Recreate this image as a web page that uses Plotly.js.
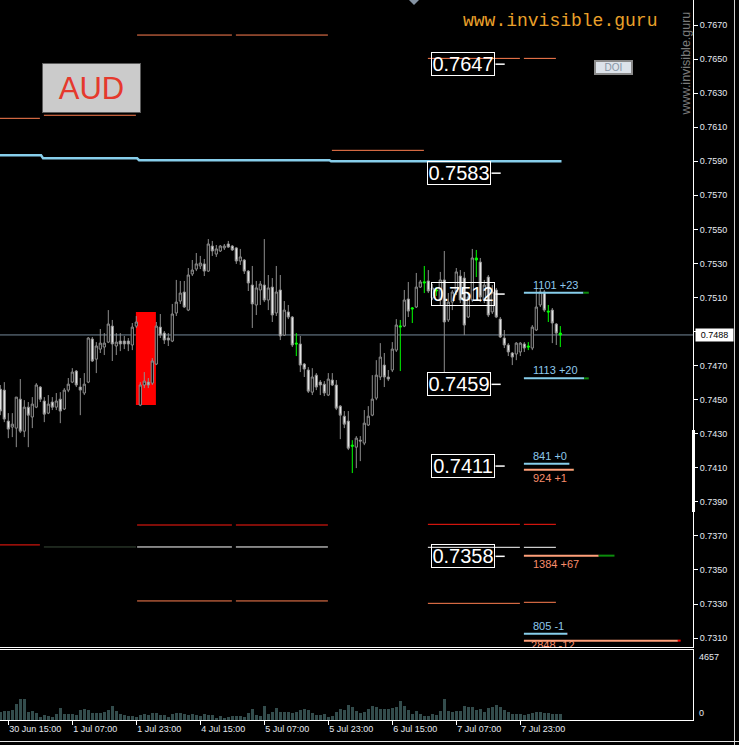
<!DOCTYPE html>
<html>
<head>
<meta charset="utf-8">
<script src="https://cdn.plot.ly/plotly-3.0.1.min.js"></script>
<style>
  html, body { margin: 0; padding: 0; background: #000; }
  #chart { width: 739px; height: 745px; }
</style>
</head>
<body>
<div id="chart"></div>
<script>
// AUDUSD, H1 bars from 30 Jun 13:00 to 8 Jul 09:00 (bar index 0..140)
const open = [
  0.74562,0.74556,0.74374,0.74339,0.74333,0.74503,0.74315,0.74456,0.74398,0.74456,
  0.74574,0.74492,0.74421,0.74486,0.74456,0.74503,0.74445,0.74556,0.74603,0.74668,
  0.74574,0.74539,0.74603,0.74856,0.74738,0.74797,0.74809,0.74838,0.74932,0.74815,
  0.74844,0.74844,0.74844,0.74821,0.74932,0.74468,0.74586,0.74603,0.74597,0.74709,
  0.74926,0.74891,0.74862,0.74844,0.75009,0.75079,0.75132,0.75026,0.75238,0.75267,
  0.75285,0.75297,0.75255,0.75402,0.75355,0.75373,0.75391,0.75414,0.75402,0.75391,
  0.75314,0.75320,0.75255,0.75173,0.75056,0.75144,0.75173,0.75085,0.75161,0.75009,
  0.75144,0.74879,0.75015,0.74985,0.74832,0.74827,0.74709,0.74674,0.74544,0.74644,
  0.74603,0.74591,0.74527,0.74615,0.74586,0.74462,0.74403,0.74374,0.74233,0.74221,
  0.74262,0.74245,0.74351,0.74409,0.74509,0.74633,0.74703,0.74633,0.74674,0.74791,
  0.74926,0.74932,0.75091,0.75032,0.75044,0.75161,0.75185,0.75197,0.75097,0.75138,
  0.75085,0.75203,0.74968,0.75073,0.75132,0.75226,0.75214,0.74985,0.75085,0.75332,
  0.75308,0.75085,0.75220,0.75015,0.75144,0.74973,0.74862,0.74821,0.74774,0.74768,
  0.74780,0.74827,0.74815,0.74803,0.74909,0.75056,0.75132,0.75020,0.75026,0.74944,
  0.74891
];
const high = [
  0.74586,0.74603,0.74421,0.74421,0.74515,0.74621,0.74497,0.74486,0.74515,0.74597,
  0.74580,0.74515,0.74527,0.74515,0.74539,0.74544,0.74568,0.74627,0.74685,0.74674,
  0.74627,0.74656,0.74868,0.74868,0.74838,0.74915,0.74891,0.75026,0.74968,0.74891,
  0.74891,0.74874,0.74862,0.74950,0.74991,0.74603,0.74662,0.74627,0.74744,0.74956,
  0.75003,0.74903,0.74891,0.75062,0.75203,0.75197,0.75197,0.75273,0.75320,0.75361,
  0.75344,0.75326,0.75443,0.75432,0.75408,0.75408,0.75414,0.75432,0.75408,0.75396,
  0.75385,0.75326,0.75261,0.75285,0.75197,0.75197,0.75443,0.75232,0.75214,0.75285,
  0.75232,0.75079,0.75056,0.74991,0.74891,0.74874,0.74715,0.74691,0.74685,0.74656,
  0.74615,0.74609,0.74656,0.74656,0.74615,0.74468,0.74433,0.74433,0.74262,0.74286,
  0.74286,0.74439,0.74462,0.74644,0.74732,0.74832,0.74774,0.74674,0.74838,0.74973,
  0.74968,0.75144,0.75191,0.75044,0.75244,0.75203,0.75285,0.75261,0.75179,0.75161,
  0.75250,0.75373,0.75126,0.75144,0.75273,0.75261,0.75250,0.75126,0.75385,0.75379,
  0.75332,0.75203,0.75232,0.75173,0.75156,0.74985,0.74909,0.74832,0.74780,0.74838,
  0.74838,0.74838,0.74838,0.74938,0.75156,0.75150,0.75144,0.75056,0.75038,0.74950,
  0.74932
];
const low = [
  0.74409,0.74368,0.74274,0.74280,0.74221,0.74304,0.74280,0.74221,0.74333,0.74450,
  0.74486,0.74368,0.74415,0.74439,0.74439,0.74362,0.74439,0.74544,0.74597,0.74574,
  0.74409,0.74527,0.74597,0.74721,0.74656,0.74774,0.74762,0.74832,0.74727,0.74762,
  0.74785,0.74797,0.74785,0.74791,0.74921,0.74462,0.74568,0.74568,0.74586,0.74703,
  0.74862,0.74827,0.74815,0.74838,0.74991,0.75062,0.75038,0.75020,0.75226,0.75255,
  0.75267,0.75226,0.75250,0.75344,0.75338,0.75367,0.75379,0.75391,0.75373,0.75297,
  0.75291,0.75238,0.75138,0.74921,0.74997,0.75056,0.75073,0.75026,0.74956,0.74991,
  0.74850,0.74874,0.74973,0.74809,0.74756,0.74662,0.74633,0.74539,0.74527,0.74556,
  0.74527,0.74521,0.74521,0.74580,0.74439,0.74268,0.74333,0.74204,0.74069,0.74098,
  0.74139,0.74233,0.74345,0.74403,0.74497,0.74615,0.74574,0.74609,0.74662,0.74780,
  0.74668,0.74926,0.74985,0.74950,0.75038,0.75156,0.75126,0.75126,0.75085,0.75109,
  0.75056,0.74662,0.74956,0.75026,0.75114,0.75067,0.74879,0.74979,0.75073,0.75220,
  0.75073,0.75067,0.74985,0.75003,0.74979,0.74862,0.74803,0.74756,0.74703,0.74732,
  0.74756,0.74780,0.74791,0.74791,0.74903,0.75044,0.75015,0.74956,0.74832,0.74821,
  0.74809
];
const close = [
  0.74433,0.74386,0.74327,0.74356,0.74515,0.74315,0.74456,0.74409,0.74474,0.74586,
  0.74503,0.74415,0.74474,0.74456,0.74492,0.74433,0.74556,0.74591,0.74662,0.74586,
  0.74556,0.74591,0.74862,0.74727,0.74815,0.74832,0.74832,0.74944,0.74827,0.74838,
  0.74827,0.74827,0.74827,0.74926,0.74956,0.74586,0.74609,0.74586,0.74727,0.74932,
  0.74879,0.74850,0.74850,0.75003,0.75073,0.75126,0.75044,0.75232,0.75261,0.75297,
  0.75302,0.75255,0.75414,0.75373,0.75385,0.75402,0.75402,0.75396,0.75379,0.75314,
  0.75338,0.75255,0.75185,0.75062,0.75156,0.75179,0.75085,0.75156,0.74997,0.75132,
  0.74874,0.75026,0.74985,0.74821,0.74827,0.74703,0.74680,0.74550,0.74633,0.74574,
  0.74586,0.74539,0.74621,0.74586,0.74450,0.74409,0.74356,0.74215,0.74227,0.74274,
  0.74257,0.74362,0.74403,0.74503,0.74644,0.74750,0.74633,0.74621,0.74797,0.74938,
  0.74932,0.75085,0.75020,0.75038,0.75161,0.75191,0.75191,0.75138,0.75156,0.75144,
  0.75203,0.74956,0.75073,0.75132,0.75250,0.75085,0.74938,0.75103,0.75332,0.75320,
  0.75103,0.75173,0.74997,0.75132,0.74985,0.74868,0.74821,0.74780,0.74750,0.74832,
  0.74832,0.74803,0.74809,0.74926,0.75044,0.75132,0.75026,0.75015,0.74950,0.74891,
  0.74880
];
const volume = [
  555,600,600,665,1064,1397,1397,554,600,443,
  177,310,266,200,400,800,400,400,400,333,
  643,710,643,466,466,466,532,665,931,600,
  400,333,266,266,200,333,400,310,443,443,
  333,333,200,400,466,466,420,355,420,310,
  266,400,333,333,133,266,133,200,266,266,
  266,200,466,732,333,266,931,400,532,800,
  532,532,532,466,532,665,732,665,466,333,
  333,400,200,266,532,732,665,998,865,600,
  466,532,732,931,865,732,732,732,800,865,
  1264,931,665,400,600,400,266,266,400,333,
  600,1397,600,532,600,600,931,865,865,665,
  732,532,800,865,998,865,665,532,400,400,
  400,333,400,466,532,532,466,466,400,400,
  400
];
const volumeScaleMax = 4657;

// bars flagged by the signal indicator (drawn in lime)
const greenBars = [74, 88, 100, 103, 106, 109, 119, 132, 137, 140];

const timeTickBars = [2, 18, 34, 50, 66, 82, 98, 114, 130];
const timeTickLabels = ["30 Jun 15:00", "1 Jul 07:00", "1 Jul 23:00", "4 Jul 15:00",
  "5 Jul 07:00", "5 Jul 23:00", "6 Jul 15:00", "7 Jul 07:00", "7 Jul 23:00"];
const priceTicks = [0.7310, 0.7330, 0.7350, 0.7370, 0.7390, 0.7410, 0.7430, 0.7450,
  0.7470, 0.7490, 0.7510, 0.7530, 0.7550, 0.7570, 0.7590, 0.7610, 0.7630, 0.7650, 0.7670];

// daily pivot levels: bar span, price, level kind
const levelFrom  = [-1, 10.9, 34.2, 58.9, 82.9, 106.9, 130.9, -1, 10.9, 34.2, 58.9, 106.9, 130.9, 34.2, 58.9, 106.9, 130.9, 34.2, 58.9, 106.9, 130.9];
const levelTo    = [9.9, 33.9, 57.9, 81.9, 105.9, 129.9, 138.9, 9.9, 33.9, 57.9, 81.9, 129.9, 138.9, 57.9, 81.9, 129.9, 138.9, 57.9, 81.9, 129.9, 138.9];
const levelPrice = [0.76152, 0.76170, 0.76641, 0.76641, 0.75964, 0.76504, 0.76504,
  0.73647, 0.73635, 0.73764, 0.73764, 0.73768, 0.73768,
  0.73635, 0.73635, 0.73633, 0.73633,
  0.73318, 0.73318, 0.73304, 0.73310];
const levelKind  = ['R','R','R','R','R','R','R', 'S','D','S','S','S','S', 'P','P','P','P', 'R','R','R','R'];

// daily average line (stepped)
const avgX = [-1, 10.2, 10.7, 34.2, 34.7, 82.3, 82.7, 140.3];
const avgY = [0.75935, 0.75935, 0.75917, 0.75917, 0.75906, 0.75906, 0.75900, 0.75900];

// highlighted zone
const zoneFrom = 33.9, zoneTo = 38.9, zoneLow = 0.74468, zoneHigh = 0.75015;

// order book levels: price, open interest, change
const bookPrice  = [0.75128, 0.74625, 0.74124, 0.74089, 0.73584, 0.73126, 0.73085];
const bookCount  = [1101, 1113, 841, 924, 1384, 805, 2848];
const bookChange = [23, 20, 0, 1, 67, -1, -12];
const bookSide   = ['buy', 'buy', 'buy', 'sell', 'sell', 'buy', 'sell'];
const bookAnchor = 130.9;

// price markers
const markerPrice = [0.7647, 0.7583, 0.7512, 0.7459, 0.7411, 0.7358];
const markerBar   = [115.7, 114.7, 115.7, 114.7, 115.7, 115.7];

const lastPrice = close[close.length - 1];

// ---- geometry of the canvas (pixels of the plotting area) ----
const PW = 693, PH = 720;
const px = v => v / PW;
const py = v => 1 - v / PH;

const FONT = 'Liberation Sans';
const LEVEL_COLORS = { R: '#ff7f50', S: '#ff1a10', P: '#ffffff', D: '#3a4c3a' };
const BUY = '#87ceeb', SELL = '#ffa07a';

const idx = open.map((_, i) => i);
const isGreen = new Set(greenBars);
const pick = (arr, green) => arr.filter((_, i) => isGreen.has(i) === green);

const traces = [
  {
    type: 'candlestick', xaxis: 'x', yaxis: 'y',
    x: pick(idx, false), open: pick(open, false), high: pick(high, false),
    low: pick(low, false), close: pick(close, false),
    increasing: { line: { color: '#8e8e8e', width: 1 }, fillcolor: '#000000' },
    decreasing: { line: { color: '#8e8e8e', width: 1 }, fillcolor: '#eeeeee' },
    hoverinfo: 'skip', showlegend: false
  },
  {
    type: 'candlestick', xaxis: 'x', yaxis: 'y',
    x: pick(idx, true), open: pick(open, true), high: pick(high, true),
    low: pick(low, true), close: pick(close, true),
    increasing: { line: { color: '#00ff00', width: 1 }, fillcolor: '#00ff00' },
    decreasing: { line: { color: '#00ff00', width: 1 }, fillcolor: '#00ff00' },
    hoverinfo: 'skip', showlegend: false
  },
  {
    type: 'scatter', mode: 'lines', xaxis: 'x', yaxis: 'y',
    x: avgX, y: avgY, line: { color: BUY, width: 2.5 },
    hoverinfo: 'skip', showlegend: false
  },
  {
    type: 'bar', xaxis: 'x2', yaxis: 'y2',
    x: idx, y: volume, width: 0.7,
    marker: { color: '#334c4c', line: { width: 0 } },
    hoverinfo: 'skip', showlegend: false
  }
];

const shapes = [];
const annotations = [];

// pivot levels
levelFrom.forEach((x0, k) => {
  shapes.push({
    type: 'line', xref: 'x', yref: 'y', layer: 'below',
    x0: x0, x1: levelTo[k], y0: levelPrice[k], y1: levelPrice[k],
    line: { color: LEVEL_COLORS[levelKind[k]], width: 1 }
  });
});

// zone box
shapes.push({
  type: 'rect', xref: 'x', yref: 'y', layer: 'below',
  x0: zoneFrom, x1: zoneTo, y0: zoneLow, y1: zoneHigh,
  fillcolor: '#ff0000', line: { width: 0 }
});

// bid line
shapes.push({
  type: 'line', xref: 'paper', yref: 'y', layer: 'below',
  x0: 0, x1: 1, y0: lastPrice, y1: lastPrice,
  line: { color: '#74889a', width: 1 }
});

// order book bars and labels
bookPrice.forEach((p, k) => {
  const end = bookAnchor + bookCount[k] / 74;
  const col = bookSide[k] === 'buy' ? BUY : SELL;
  shapes.push({
    type: 'line', xref: 'x', yref: 'y',
    x0: bookAnchor, x1: end, y0: p, y1: p,
    line: { color: col, width: 2 }
  });
  if (bookChange[k] !== 0) {
    shapes.push({
      type: 'line', xref: 'x', yref: 'y',
      x0: end, x1: end + Math.abs(bookChange[k]) / 17, y0: p, y1: p,
      line: { color: bookChange[k] > 0 ? '#0c8c0c' : '#ff0000', width: 2 }
    });
  }
  const label = bookCount[k] + ' ' + (bookChange[k] >= 0 ? '+' : '') + bookChange[k];
  const txtColor = bookSide[k] === 'buy' ? '#8ec8ec' : '#f98d6b';
  if (p > 0.7310) {
    annotations.push({
      xref: 'x', yref: 'y', x: bookAnchor + 1.8, y: p, xanchor: 'left', yanchor: 'middle',
      yshift: bookSide[k] === 'buy' ? 8 : -8,
      text: label, showarrow: false,
      font: { family: FONT, size: 11, color: txtColor }
    });
  } else {
    // lowest level: its caption runs under the panel edge and is clipped there
    traces.push({
      type: 'scatter', mode: 'text', xaxis: 'x', yaxis: 'y',
      x: [bookAnchor + 1.8], y: [p], text: [label], textposition: 'bottom right',
      textfont: { family: FONT, size: 11, color: txtColor },
      cliponaxis: true, hoverinfo: 'skip', showlegend: false
    });
  }
});

// price markers with their pointer dashes
markerPrice.forEach((p, k) => {
  annotations.push({
    xref: 'x', yref: 'y', x: markerBar[k], y: p, xanchor: 'center', yanchor: 'middle',
    text: p.toFixed(4), showarrow: false,
    font: { family: FONT, size: 20, color: '#ffffff' },
    bordercolor: '#ffffff', borderwidth: 1, borderpad: 0,
    width: 62, height: 22, bgcolor: 'rgba(0,0,0,0)'
  });
  shapes.push({
    type: 'line', xref: 'x', yref: 'y',
    x0: markerBar[k] + 8.1, x1: markerBar[k] + 10.4, y0: p, y1: p,
    line: { color: '#ffffff', width: 1.5 }
  });
});

// bid price tag on the axis
annotations.push({
  xref: 'paper', yref: 'y', x: px(695), y: lastPrice, xanchor: 'left', yanchor: 'middle',
  text: lastPrice.toFixed(4), showarrow: false,
  font: { family: FONT, size: 9, color: '#000000' },
  bgcolor: '#ffffff', width: 37, height: 12, borderpad: 0
});

// volume scale labels
annotations.push({
  xref: 'paper', yref: 'paper', x: px(697), y: py(657), xanchor: 'left', yanchor: 'middle',
  text: String(volumeScaleMax), showarrow: false,
  font: { family: FONT, size: 9, color: '#e6eaf0' }
});
annotations.push({
  xref: 'paper', yref: 'paper', x: px(697), y: py(713), xanchor: 'left', yanchor: 'middle',
  text: '0', showarrow: false,
  font: { family: FONT, size: 9, color: '#e6eaf0' }
});

// symbol button
annotations.push({
  xref: 'paper', yref: 'paper', x: px(91.5), y: py(88), xanchor: 'center', yanchor: 'middle',
  text: 'AUD', showarrow: false,
  font: { family: FONT, size: 31, color: '#e5392d' },
  bgcolor: '#cbcbcb', bordercolor: '#5c5c5c', borderwidth: 1, borderpad: 0,
  width: 97, height: 48
});
// DOI button
annotations.push({
  xref: 'paper', yref: 'paper', x: px(613), y: py(67.5), xanchor: 'center', yanchor: 'middle',
  text: 'DOI', showarrow: false,
  font: { family: FONT, size: 10, color: '#8795a5' },
  bgcolor: '#dde3ea', bordercolor: '#8a8a8a', borderwidth: 2, borderpad: 0,
  width: 35, height: 11
});
// site captions
annotations.push({
  xref: 'paper', yref: 'paper', x: px(560), y: py(20.5), xanchor: 'center', yanchor: 'middle',
  text: 'www.invisible.guru', showarrow: false,
  font: { family: 'Liberation Mono', size: 18, color: '#eaa02a' }
});
annotations.push({
  xref: 'paper', yref: 'paper', x: px(685.5), y: py(64), xanchor: 'center', yanchor: 'middle',
  text: 'www.invisible.guru', showarrow: false, textangle: -90,
  font: { family: FONT, size: 12.5, color: '#7b7b7b' }
});

// window furniture
shapes.push({
  type: 'path', xref: 'paper', yref: 'paper',
  path: `M ${px(409)} ${py(0)} L ${px(419)} ${py(0)} L ${px(414)} ${py(5)} Z`,
  fillcolor: '#8593a3', line: { width: 0 }
});
shapes.push({
  type: 'rect', xref: 'paper', yref: 'paper',
  x0: px(692), x1: px(695), y0: py(430), y1: py(512),
  fillcolor: '#ffffff', line: { width: 0 }
});
shapes.push({
  type: 'line', xref: 'paper', yref: 'paper',
  x0: px(734.5), x1: px(734.5), y0: py(0), y1: py(745),
  line: { color: '#cfcfcf', width: 1 }
});
shapes.push({
  type: 'line', xref: 'paper', yref: 'paper',
  x0: px(0), x1: px(739), y0: py(741.5), y1: py(741.5),
  line: { color: '#e6e6e6', width: 1 }
});

const xRange = [-0.075, 173.175];

// the bid tag covers the neighbouring price label
const priceTickText = priceTicks.map(v => Math.abs(v - lastPrice) < 0.0006 ? '' : v.toFixed(4));

const layout = {
  width: 739, height: 745,
  margin: { l: 0, r: 46, t: 0, b: 25, pad: 0 },
  paper_bgcolor: '#000000', plot_bgcolor: '#000000',
  font: { family: FONT, size: 9, color: '#ffffff' },
  showlegend: false,
  boxgap: 0.45, boxgroupgap: 0,
  bargap: 0,
  xaxis: {
    domain: [0, 1], range: xRange, anchor: 'y',
    rangeslider: { visible: false },
    showticklabels: false, ticks: '', showgrid: false, zeroline: false,
    showline: true, linecolor: '#ffffff', linewidth: 1, fixedrange: true
  },
  yaxis: {
    domain: [1 - 647 / PH, 1], range: [0.730476, 0.768468], anchor: 'x',
    side: 'right', tickvals: priceTicks, ticktext: priceTickText,
    ticks: 'outside', ticklen: 4, tickcolor: '#ffffff', tickwidth: 1,
    tickfont: { family: FONT, size: 9, color: '#e6eaf0' },
    showgrid: false, zeroline: false,
    showline: true, linecolor: '#ffffff', linewidth: 1, fixedrange: true
  },
  xaxis2: {
    domain: [0, 1], range: xRange, anchor: 'y2', matches: 'x',
    tickvals: timeTickBars, ticktext: timeTickLabels,
    ticks: 'outside', ticklen: 4, tickcolor: '#ffffff', tickwidth: 1,
    ticklabelposition: 'outside right',
    tickfont: { family: FONT, size: 9, color: '#e6eaf0' },
    showgrid: false, zeroline: false,
    showline: true, mirror: true, linecolor: '#ffffff', linewidth: 1, fixedrange: true
  },
  yaxis2: {
    domain: [0, 70 / PH], range: [0, volumeScaleMax], anchor: 'x2',
    side: 'right', showticklabels: false, ticks: '',
    showgrid: false, zeroline: false,
    showline: true, linecolor: '#ffffff', linewidth: 1, fixedrange: true
  },
  shapes: shapes,
  annotations: annotations
};

Plotly.newPlot('chart', traces, layout, { staticPlot: true, displayModeBar: false });
</script>
</body>
</html>
